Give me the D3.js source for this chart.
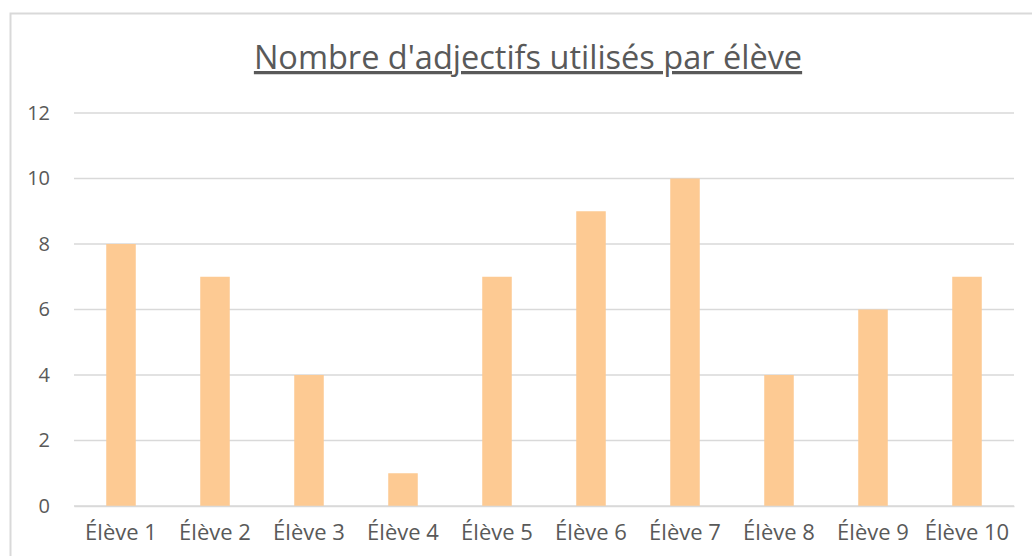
<!DOCTYPE html>
<html>
<head>
<meta charset="utf-8">
<script src="https://cdn.jsdelivr.net/npm/d3@7"></script>
<style>
  body { margin: 0; background: #fff; }
  svg text { font-family: "Open Sans", Lato, sans-serif; fill: #595959; }
</style>
</head>
<body>
<svg id="chart" width="1032" height="556"></svg>
<script>
// data
var eleves = ["Élève 1", "Élève 2", "Élève 3", "Élève 4", "Élève 5",
              "Élève 6", "Élève 7", "Élève 8", "Élève 9", "Élève 10"];
var adjectifs = [8, 7, 4, 1, 7, 9, 10, 4, 6, 7];
var yTicks = [0, 2, 4, 6, 8, 10, 12];
var titre = "Nombre d'adjectifs utilisés par élève";

var svg = d3.select("#chart");

// chart frame
svg.append("rect")
  .attr("x", 10.5).attr("y", 13.5)
  .attr("width", 1040).attr("height", 560)
  .attr("fill", "none")
  .attr("stroke", "#d9d9d9")
  .attr("stroke-width", 2);

var plotLeft = 74, plotRight = 1014, plotTop = 113, plotBottom = 506;

var x = d3.scaleBand()
  .domain(eleves)
  .range([plotLeft, plotRight])
  .paddingInner(0.686)
  .paddingOuter(0.343);

var y = d3.scaleLinear()
  .domain([0, 12])
  .range([plotBottom, plotTop]);

// gridlines
svg.append("g")
  .selectAll("line")
  .data(yTicks)
  .join("line")
    .attr("x1", plotLeft).attr("x2", plotRight)
    .attr("y1", function(d) { return y(d); })
    .attr("y2", function(d) { return y(d); })
    .attr("stroke", "#d9d9d9")
    .attr("stroke-width", 1.5);

// y axis labels
var yAxis = d3.axisLeft(y).tickValues(yTicks).tickSize(0).tickPadding(24);
svg.append("g")
  .attr("transform", "translate(" + plotLeft + ",0)")
  .call(yAxis)
  .call(function(g) { g.select(".domain").remove(); })
  .selectAll("text")
    .style("font-size", "20px")
    .attr("fill", "#595959");

// bars
svg.append("g")
  .selectAll("rect")
  .data(adjectifs)
  .join("rect")
    .attr("x", function(d, i) { return x(eleves[i]); })
    .attr("y", function(d) { return y(d); })
    .attr("width", x.bandwidth())
    .attr("height", function(d) { return y(0) - y(d); })
    .attr("fill", "#fdca93");

// x axis line + labels
var xAxis = d3.axisBottom(x).tickSize(0).tickPadding(18);
svg.append("g")
  .attr("transform", "translate(0," + plotBottom + ")")
  .call(xAxis)
  .call(function(g) { g.select(".domain").attr("stroke", "#d9d9d9").attr("stroke-width", 1.5); })
  .selectAll("text")
    .style("font-size", "22px")
    .attr("fill", "#595959");

// title
svg.append("text")
  .attr("x", 528)
  .attr("y", 69)
  .attr("text-anchor", "middle")
  .style("font-size", "32.5px")
  .style("text-decoration", "underline")
  .text(titre);
</script>
</body>
</html>
